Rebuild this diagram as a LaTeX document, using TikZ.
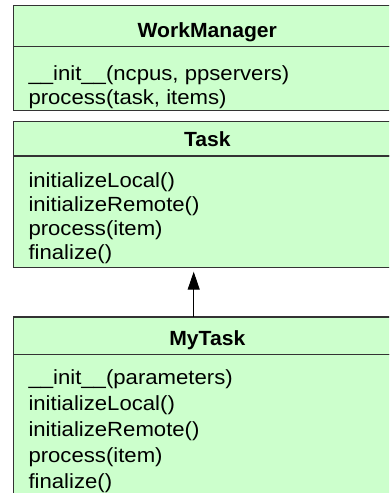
\documentclass[tikz,border=0pt]{standalone}
\usepackage{fontspec}
\setmainfont{Liberation Sans}[FakeStretch=1.08]
\newfontfamily\classnamefont{Liberation Sans}[FakeStretch=1.03]
\usetikzlibrary{arrows.meta,calc}
\definecolor{classfill}{HTML}{CCFFCC}
\definecolor{classline}{HTML}{333333}
\tikzset{
  classpart/.style={draw=classline, line width=1.2pt, fill=classfill,
    anchor=north west, minimum width=392pt, inner sep=0pt, outer sep=0pt},
  classname/.style={font=\classnamefont\bfseries\fontsize{20.5}{24}\selectfont,
    anchor=base, inner sep=0pt},
  % the base anchor of a multi-line block sits on its last line;
  % the argument is the line pitch
  members/.style={font=\fontsize{20.5}{#1}\selectfont, align=left,
    anchor=base west, inner sep=0pt},
  inherit/.style={-{Triangle[length=18pt,width=12pt]}, line width=1pt,
    shorten >=4pt}
}
\begin{document}
% y grows downwards: one unit is one pixel from the top-left corner
\begin{tikzpicture}[x=1pt, y=-1pt]
  \useasboundingbox (0,0) rectangle (389,493);
  \clip (0,0) rectangle (389,493);

  % WorkManager
  \node[classpart, minimum height=41pt] (wmh) at (13.3,5.7) {};
  \node[classpart, minimum height=63.6pt] (wmb) at (wmh.south west) {};
  \node[classname] (wmn) at ($(wmh.south)+(-2,-9.5)$) {WorkManager};
  \node[members=24.5pt] (wmm) at ($(wmb.north west)+(15,57.8)$)
    {\_\_init\_\_(ncpus, ppservers)\\process(task, items)};

  % Task
  \node[classpart, minimum height=34.7pt] (th) at (13.3,121.3) {};
  \node[classpart, minimum height=111.7pt] (tb) at (th.south west) {};
  \node[classname] (tn) at ($(th.south)+(-2,-9.5)$) {Task};
  \node[members=23.7pt] (tm) at ($(tb.north west)+(15,103)$)
    {initializeLocal()\\initializeRemote()\\process(item)\\finalize()};

  % MyTask
  \node[classpart, minimum height=37.7pt] (mth) at (13.3,317) {};
  \node[classpart, minimum height=200pt] (mtb) at (mth.south west) {};
  \node[classname] (mtn) at ($(mth.south)+(-2,-9.5)$) {MyTask};
  \node[members=26pt] (mtm) at ($(mtb.north west)+(15,133.3)$)
    {\_\_init\_\_(parameters)\\initializeLocal()\\initializeRemote()\\process(item)\\finalize()};

  % generalisation MyTask -> Task
  \coordinate (ax) at (193.7,300);
  \draw[inherit] (mth.north -| ax) -- (tb.south -| ax);
\end{tikzpicture}
\end{document}
